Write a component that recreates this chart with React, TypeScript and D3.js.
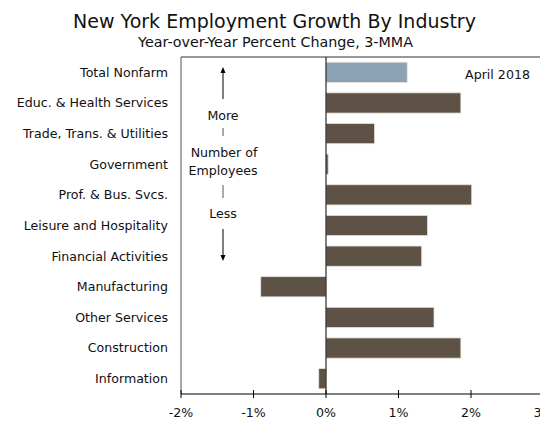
import React from "react";
import * as d3 from "d3";

const categories = [
  "Total Nonfarm",
  "Educ. & Health Services",
  "Trade, Trans. & Utilities",
  "Government",
  "Prof. & Bus. Svcs.",
  "Leisure and Hospitality",
  "Financial Activities",
  "Manufacturing",
  "Other Services",
  "Construction",
  "Information",
];
const values = [1.12, 1.86, 0.67, 0.03, 2.01, 1.4, 1.32, -0.9, 1.49, 1.86, -0.1];
const xTicks = [-2, -1, 0, 1, 2, 3];

const W = 540;
const H = 422;
const FONT = "DejaVu Sans, Verdana, sans-serif";

export default function App() {
  const left = 181;
  const right = 543.5;
  const top = 57;
  const bottom = 394;
  const x = d3.scaleLinear().domain([-2, 3]).range([left, right]);
  const y = d3.scaleBand<string>().domain(categories).range([top, bottom]).paddingInner(0.34).paddingOuter(0.17);
  const ax = 223;
  const fs = 12.6;

  return (
    <svg width={W} height={H} style={{ position: "absolute", left: 0, top: 0, background: "#fff" }} fontFamily={FONT}>
      <text x={274.5} y={28} textAnchor="middle" fontSize={19} fill="#111">New York Employment Growth By Industry</text>
      <text x={275.5} y={47} textAnchor="middle" fontSize={14.3} fill="#111">Year-over-Year Percent Change, 3-MMA</text>

      {/* frame */}
      <line x1={left} x2={W} y1={top} y2={top} stroke="#333" strokeWidth={1} />
      <line x1={left} x2={left} y1={top} y2={bottom} stroke="#555" strokeWidth={1} />

      {/* bars */}
      {categories.map((c, i) => {
        const v = values[i];
        const x0 = x(Math.min(0, v));
        const x1 = x(Math.max(0, v));
        return (
          <rect
            key={c}
            x={x0}
            y={y(c)!}
            width={Math.max(1, x1 - x0)}
            height={y.bandwidth()}
            fill={i === 0 ? "#8aa2b3" : "#5e5246"}
            stroke="#e6e2dc"
            strokeWidth={0.8}
          />
        );
      })}

      {/* zero line */}
      <line x1={x(0)} x2={x(0)} y1={top} y2={bottom} stroke="#000" strokeWidth={1} />

      {/* category labels */}
      {categories.map((c) => (
        <text key={c} x={168} y={y(c)! + y.bandwidth() / 2} dy="0.35em" textAnchor="end" fontSize={fs} fill="#111">
          {c}
        </text>
      ))}

      {/* x axis */}
      <line x1={left} x2={W} y1={bottom} y2={bottom} stroke="#000" strokeWidth={1} />
      {xTicks.map((t) => (
        <g key={t}>
          <line x1={x(t)} x2={x(t)} y1={bottom - 4} y2={bottom + 4} stroke="#000" strokeWidth={1} />
          <text x={x(t)} y={413} dy="0.35em" textAnchor="middle" fontSize={fs} fill="#111">
            {t}%
          </text>
        </g>
      ))}

      {/* annotation */}
      <text x={497.5} y={75} dy="0.35em" textAnchor="middle" fontSize={fs} fill="#111">April 2018</text>
      <line x1={ax} x2={ax} y1={72} y2={99} stroke="#000" strokeWidth={1} />
      <path d={`M${ax - 2.5},73 L${ax},67 L${ax + 2.5},73 Z`} fill="#000" />
      <text x={ax} y={116} dy="0.35em" textAnchor="middle" fontSize={fs} fill="#111">More</text>
      <line x1={ax} x2={ax} y1={128} y2={136} stroke="#555" strokeWidth={1} />
      <text x={ax + 1} y={153} dy="0.35em" textAnchor="middle" fontSize={fs} fill="#111">Number of</text>
      <text x={ax} y={171} dy="0.35em" textAnchor="middle" fontSize={fs} fill="#111">Employees</text>
      <line x1={ax} x2={ax} y1={185} y2={198} stroke="#555" strokeWidth={1} />
      <text x={ax} y={214} dy="0.35em" textAnchor="middle" fontSize={fs} fill="#111">Less</text>
      <line x1={ax} x2={ax} y1={229} y2={256} stroke="#000" strokeWidth={1} />
      <path d={`M${ax - 2.5},255 L${ax},261 L${ax + 2.5},255 Z`} fill="#000" />
    </svg>
  );
}
